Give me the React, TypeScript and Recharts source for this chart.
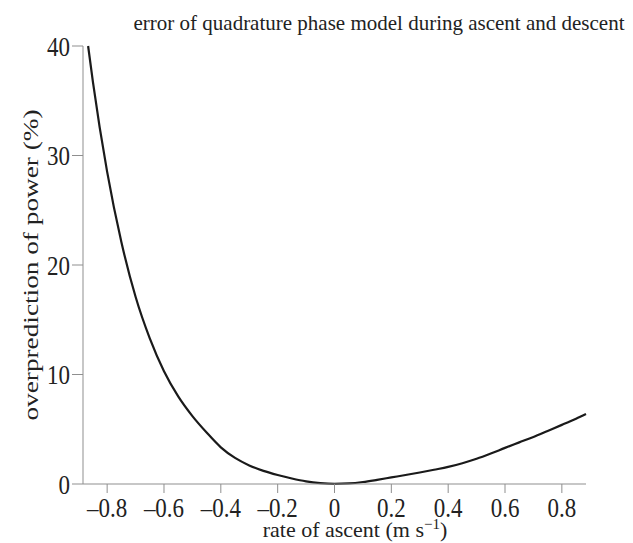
import { LineChart, Line, XAxis, YAxis } from "recharts";

const rate = [
  -0.867, -0.85, -0.8, -0.75, -0.7, -0.65, -0.6, -0.55, -0.5, -0.45, -0.4,
  -0.35, -0.3, -0.25, -0.2, -0.15, -0.1, -0.05, 0, 0.05, 0.1, 0.15, 0.2, 0.25,
  0.3, 0.35, 0.4, 0.45, 0.5, 0.55, 0.6, 0.65, 0.7, 0.75, 0.8, 0.85, 0.885,
];
const overprediction = [
  40, 36.7, 28.5, 22.1, 17.1, 13.3, 10.3, 8.0, 6.2, 4.7, 3.35, 2.38, 1.7,
  1.2, 0.82, 0.5, 0.24, 0.08, 0.01, 0.05, 0.18, 0.38, 0.6, 0.82, 1.05, 1.3,
  1.56, 1.9, 2.3, 2.78, 3.3, 3.8, 4.3, 4.85, 5.4, 5.97, 6.4,
];
const xTicks = [-0.8, -0.6, -0.4, -0.2, 0, 0.2, 0.4, 0.6, 0.8];
const yTicks = [0, 10, 20, 30, 40];

const data = rate.map((r, i) => ({ rate: r, err: overprediction[i] }));

const FONT = "'Liberation Serif', 'DejaVu Serif', serif";
const AXIS = "#8f8f8f";
const TXT = "#222";

const fmtX = (v: number) => (v < 0 ? "\u2013" + Math.abs(v) : String(v));

// tick numbers in the figure are a bit taller than wide
const XTick = ({ x, y, payload }: any) => (
  <text
    transform={`translate(${x},${y + 19}) scale(1,1.2)`}
    textAnchor="middle"
    fill={TXT}
    fontSize={23}
    fontFamily={FONT}
  >
    {fmtX(payload.value)}
  </text>
);

const YTick = ({ x, y, payload }: any) => (
  <text
    transform={`translate(${x},${y + 9.5}) scale(1,1.2)`}
    textAnchor="end"
    fill={TXT}
    fontSize={23}
    fontFamily={FONT}
  >
    {payload.value}
  </text>
);

export default function App() {
  return (
    <div style={{ position: "absolute", left: 0, top: 0, width: 633, height: 543 }}>
      <LineChart
        width={633}
        height={543}
        data={data}
        margin={{ top: 46, right: 47, left: 0, bottom: 0 }}
      >
        <XAxis
          dataKey="rate"
          type="number"
          domain={[-0.885, 0.885]}
          ticks={xTicks}
          stroke={AXIS}
          tickSize={9}
          tickMargin={5}
          height={59}
          tick={<XTick />}
          label={{
            content: () => (
              <text
                x={355}
                y={537}
                textAnchor="middle"
                fill={TXT}
                fontSize={22}
                fontFamily={FONT}
              >
                rate of ascent (m s
                <tspan dy={-8} fontSize={15}>
                  {"\u22121"}
                </tspan>
                <tspan dy={8}>)</tspan>
              </text>
            ),
          }}
        />
        <XAxis
          xAxisId="top"
          orientation="top"
          dataKey="rate"
          type="number"
          domain={[-0.885, 0.885]}
          tick={false}
          tickLine={false}
          stroke={AXIS}
          height={0}
        />
        <YAxis
          type="number"
          domain={[0, 40]}
          ticks={yTicks}
          stroke={AXIS}
          tickSize={11}
          tickMargin={2}
          width={83}
          tick={<YTick />}
          label={{
            content: () => (
              <text
                transform="translate(38,265) rotate(-90) scale(1.24,1)"
                textAnchor="middle"
                fill={TXT}
                fontSize={22}
                fontFamily={FONT}
              >
                overprediction of power (%)
              </text>
            ),
          }}
        />
        <YAxis
          yAxisId="right"
          orientation="right"
          domain={[0, 40]}
          tick={false}
          tickLine={false}
          stroke={AXIS}
          width={0}
        />
        <Line
          dataKey="err"
          type="monotone"
          stroke="#1a1a1a"
          strokeWidth={2.2}
          dot={false}
          isAnimationActive={false}
        />
      </LineChart>
      <div
        style={{
          position: "absolute",
          left: 379,
          top: 13,
          transform: "translateX(-50%)",
          whiteSpace: "nowrap",
          fontFamily: FONT,
          fontSize: 21,
          lineHeight: "21px",
          color: TXT,
        }}
      >
        error of quadrature phase model during ascent and descent
      </div>
    </div>
  );
}
